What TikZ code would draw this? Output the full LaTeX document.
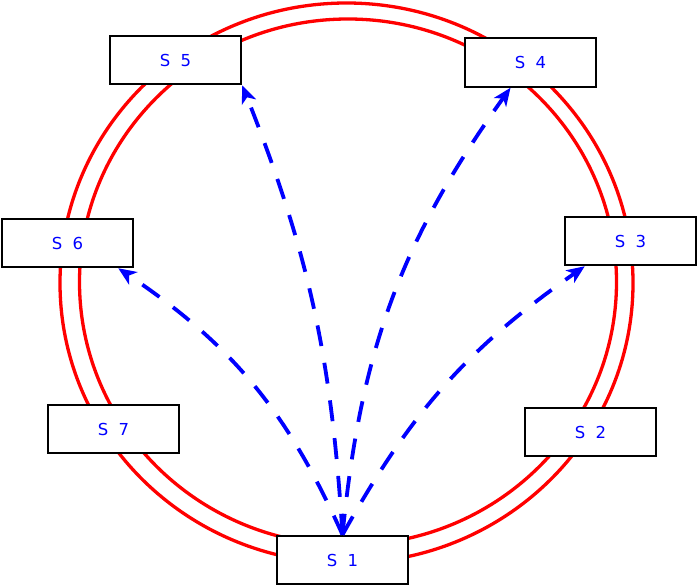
\documentclass[tikz,border=0pt]{standalone}
\usepackage{fontspec}
\setmainfont{DejaVu Sans}[WordSpace=2.0]
\usetikzlibrary{arrows.meta}
\begin{document}
\begin{tikzpicture}[x=1pt,y=1pt,
  sbox/.style={draw=black, line width=2pt, fill=white, minimum width=131.5pt, minimum height=48.5pt, inner sep=0pt, text=blue, font=\fontsize{16.5}{20}\selectfont},
  ring/.style={draw=red, line width=3.3pt},
  msg/.style={draw=blue, line width=3.8pt, dash pattern=on 21pt off 17pt, -{Stealth[length=18pt,width=15pt,inset=5pt]}}]
\useasboundingbox (0,0) rectangle (698,-586);
\draw[ring] (346.5,-283) ellipse [x radius=286.5, y radius=280];
\draw[ring] (348,-282) ellipse [x radius=268.5, y radius=263];
\node[sbox] (S5) at (175.5,-60) {S 5};
\node[sbox] (S4) at (530.5,-62.5) {S 4};
\node[sbox] (S6) at (67.5,-243) {S 6};
\node[sbox] (S3) at (630.5,-241) {S 3};
\node[sbox] (S7) at (113.5,-429) {S 7};
\node[sbox] (S2) at (590.5,-432) {S 2};
\node[sbox] (S1) at (342.5,-560) {S 1};
\draw[msg] (S1.north) to[bend right=16] ([xshift=-16pt]S6.south east);
\draw[msg] (S1.north) to[bend right=9] (S5.south east);
\draw[msg] (S1.north) to[bend left=15] ([xshift=-20pt]S4.south);
\draw[msg] (S1.north) to[bend left=13] ([xshift=21pt]S3.south west);
\end{tikzpicture}
\end{document}
